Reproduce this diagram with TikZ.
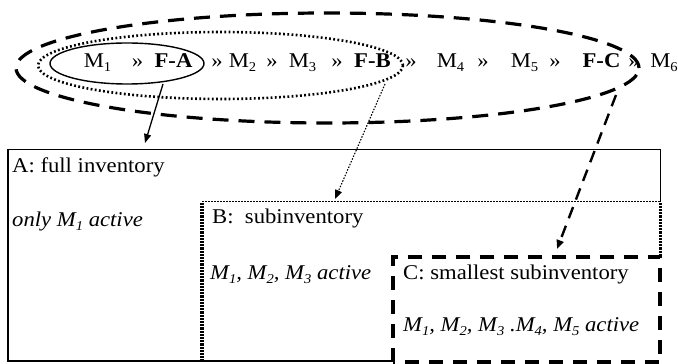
\documentclass[tikz,border=0pt]{standalone}
\usepackage{fontspec}
\setmainfont{Liberation Serif}
\usepackage{graphicx}
\usetikzlibrary{shapes.geometric,arrows.meta}
\newcommand\lowsub[1]{\raisebox{-0.35ex}{\fontsize{13.5}{13.5}\selectfont #1}}
\newcommand\hstretch[1]{\scalebox{1.08}[1]{#1}}
\begin{document}
\begin{tikzpicture}[x=1pt,y=1pt,
  tok/.style={anchor=base,inner sep=0pt,font=\fontsize{21}{25}\selectfont},
  lbl/.style={anchor=base west,inner sep=0pt,font=\fontsize{21}{25}\selectfont},
  ilbl/.style={lbl,font=\fontsize{21}{25}\selectfont\itshape},
  tipA/.style={-{Triangle[length=9pt,width=7pt]}},
  boxshape/.style={rectangle,inner sep=0pt,anchor=south west},
  thickdots/.style={line width=3.4pt},
  dotgaps/.style={line width=3.6pt,white,dash pattern=on 0.9pt off 2.3pt}]
\useasboundingbox (0,0) rectangle (678,364);

% ellipses
\node[draw,ellipse,inner sep=0pt,minimum width=623,minimum height=110,
      line width=3.2pt,dash pattern=on 16pt off 10pt] (eC) at (327.5,296) {};
\node[draw,ellipse,inner sep=0pt,minimum width=365,minimum height=67,
      line width=2.6pt,dash pattern=on 1.8pt off 2.4pt] (eB) at (220.5,298.5) {};
\node[draw,ellipse,inner sep=0pt,minimum width=154,minimum height=41,
      line width=1.4pt] (eA) at (127,300.5) {};

% top row
\node[tok] (m1) at (97.5,296) {\hstretch{M\lowsub{1}}};
\node[tok] (g1) at (137.5,296) {\hstretch{»}};
\node[tok] (fa) at (173.5,296) {\hstretch{\bfseries F-A}};
\node[tok] (g2) at (217,296) {\hstretch{»}};
\node[tok] (m2) at (242.5,296) {\hstretch{M\lowsub{2}}};
\node[tok] (g3) at (272,296) {\hstretch{»}};
\node[tok] (m3) at (302.5,296) {\hstretch{M\lowsub{3}}};
\node[tok] (g4) at (337,296) {\hstretch{»}};
\node[tok] (fb) at (372.5,296) {\hstretch{\bfseries F-B}};
\node[tok] (g5) at (411,296) {\hstretch{»}};
\node[tok] (m4) at (450.5,296) {\hstretch{M\lowsub{4}}};
\node[tok] (g6) at (483,296) {\hstretch{»}};
\node[tok] (m5) at (524.5,296) {\hstretch{M\lowsub{5}}};
\node[tok] (g7) at (555,296) {\hstretch{»}};
\node[tok] (fc) at (601.5,296) {\hstretch{\bfseries F-C}};
\node[tok] (g8) at (634,296) {\hstretch{»}};
\node[tok] (m6) at (664,296) {\hstretch{M\lowsub{6}}};

% boxes
\node[boxshape,minimum width=652,minimum height=211] (boxA) at (8,3) {};
\node[boxshape,minimum width=458,minimum height=159] (boxB) at (202,3) {};
\node[boxshape,minimum width=267,minimum height=105] (boxC) at (393,2) {};

\draw[line width=1.2pt] (boxA.south west -| boxC.west) -- (boxA.south west)
  -- (boxA.north west) -- (boxA.north east) -- (boxB.north east);
\draw[line width=1pt,dash pattern=on 1.5pt off 1.5pt]
  (boxB.north west) -- (boxB.north east);
\draw[thickdots] (boxB.north west) -- (boxB.south west);
\draw[dotgaps] (boxB.north west) -- (boxB.south west);
\draw[thickdots] (boxB.north east) -- (boxC.north east);
\draw[dotgaps] (boxB.north east) -- (boxC.north east);
\draw[line width=4pt,dash pattern=on 14pt off 10pt]
  (boxC.south west) rectangle (boxC.north east);

% box labels
\node[lbl] (la) at (12,191) {\hstretch{A: full inventory}};
\node[ilbl] (lam) at (12,137) {\hstretch{only M\lowsub{1} active}};
\node[lbl] (lb) at (212,140) {\hstretch{B:\ \ subinventory}};
\node[ilbl] (lbm) at (210,84) {\hstretch{M\lowsub{1}, M\lowsub{2}, M\lowsub{3} active}};
\node[lbl] (lc) at (403,84) {\hstretch{C: smallest subinventory}};
\node[ilbl] (lcm) at (403,32) {\hstretch{M\lowsub{1}, M\lowsub{2}, M\lowsub{3}\ .M\lowsub{4}, M\lowsub{5} active}};

% arrows
\coordinate (sA) at (163,280);
\coordinate (tA) at (145,221);
\coordinate (sB) at (385,280);
\coordinate (tB) at (335,165);
\coordinate (sC) at (616,269);
\coordinate (tC) at (557,115);
\draw[tipA,line width=1.3pt] (sA) -- (tA);
\draw[tipA,line width=1.1pt,dash pattern=on 1.5pt off 1.5pt] (sB) -- (tB);
\draw[tipA,line width=2.4pt,dash pattern=on 12pt off 8pt] (sC) -- (tC);
\end{tikzpicture}
\end{document}
